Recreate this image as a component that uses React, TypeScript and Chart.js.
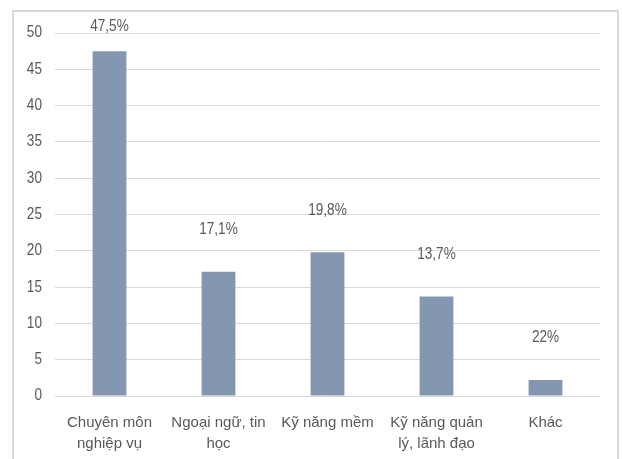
import React, { useEffect, useRef } from "react";
import { Chart, registerables } from "chart.js";

Chart.register(...registerables);

// Training needs by area (% of respondents)
const categories: (string | string[])[] = [
  ["Chuyên môn", "nghiệp vụ"],
  ["Ngoại ngữ, tin", "học"],
  "Kỹ năng mềm",
  ["Kỹ năng quản", "lý, lãnh đạo"],
  "Khác",
];
const shares = [47.5, 17.1, 19.8, 13.7, 2.2];
const shareLabels = ["47,5%", "17,1%", "19,8%", "13,7%", "22%"];

const yMin = 0;
const yMax = 50;
const yStep = 5;

const TEXT = "#595959";
const GRID = "#d9d9d9";
const BAR = "#8497b0";
const SANS = '"Liberation Sans", Arial, sans-serif';
// horizontal squeeze used for the compact numeric text
const NARROW_X = 0.85;

function drawNarrowText(
  ctx: CanvasRenderingContext2D,
  text: string,
  x: number,
  y: number,
  align: CanvasTextAlign
) {
  ctx.save();
  ctx.translate(x, y);
  ctx.scale(NARROW_X, 1);
  ctx.textAlign = align;
  ctx.fillText(text, 0, 0);
  ctx.restore();
}

const framePlugin = {
  id: "frame",
  beforeDraw(chart: Chart) {
    const { ctx, width, height } = chart;
    ctx.save();
    ctx.fillStyle = "#ffffff";
    ctx.fillRect(0, 0, width, height);
    ctx.strokeStyle = GRID;
    ctx.lineWidth = 2;
    ctx.strokeRect(13, 11, 605, height + 20);
    ctx.restore();
  },
};

// y-axis numbers, drawn from the scale's own ticks
const yLabelPlugin = {
  id: "yLabels",
  afterDraw(chart: Chart) {
    const { ctx } = chart;
    const scale: any = chart.scales.y;
    ctx.save();
    ctx.font = `16px ${SANS}`;
    ctx.fillStyle = TEXT;
    ctx.textBaseline = "middle";
    scale.ticks.forEach((t: any) => {
      const y = scale.getPixelForValue(t.value);
      drawNarrowText(ctx, String(t.value), chart.chartArea.left - 13, y, "right");
    });
    ctx.restore();
  },
};

const valueLabelPlugin = {
  id: "valueLabels",
  afterDatasetsDraw(chart: Chart) {
    const { ctx, chartArea } = chart;
    const meta = chart.getDatasetMeta(0);
    ctx.save();
    ctx.font = `16px ${SANS}`;
    ctx.fillStyle = TEXT;
    ctx.textBaseline = "middle";
    meta.data.forEach((bar: any, i: number) => {
      const y = Math.max(bar.y - 42, chartArea.top - 6);
      drawNarrowText(ctx, shareLabels[i], bar.x, y, "center");
    });
    ctx.restore();
  },
};

export default function App() {
  const canvasRef = useRef<HTMLCanvasElement | null>(null);

  useEffect(() => {
    document.body.style.margin = "0";
    const canvas = canvasRef.current;
    if (!canvas) return;
    const chart = new Chart(canvas, {
      type: "bar",
      data: {
        labels: categories,
        datasets: [
          {
            data: shares,
            backgroundColor: BAR,
            borderWidth: 0,
            categoryPercentage: 1,
            barPercentage: 0.31,
          },
        ],
      },
      options: {
        responsive: false,
        animation: false,
        devicePixelRatio: 1,
        layout: { padding: { top: 33, right: 22, bottom: 0, left: 0 } },
        plugins: {
          legend: { display: false },
          tooltip: { enabled: false },
        },
        scales: {
          x: {
            grid: { display: false },
            border: { display: false },
            ticks: {
              color: TEXT,
              padding: 8,
              maxRotation: 0,
              autoSkip: false,
              font: { family: SANS, size: 15, lineHeight: 1.4 },
            },
            afterFit(scale: any) {
              scale.height = 63;
            },
          },
          y: {
            min: yMin,
            max: yMax,
            grid: { color: GRID, lineWidth: 1, drawTicks: false },
            border: { display: false },
            ticks: {
              stepSize: yStep,
              display: false,
            },
            afterFit(scale: any) {
              scale.width = 55;
            },
          },
        },
      },
      plugins: [framePlugin, yLabelPlugin, valueLabelPlugin],
    });
    return () => chart.destroy();
  }, []);

  return <canvas ref={canvasRef} width={622} height={459} style={{ display: "block" }} />;
}
